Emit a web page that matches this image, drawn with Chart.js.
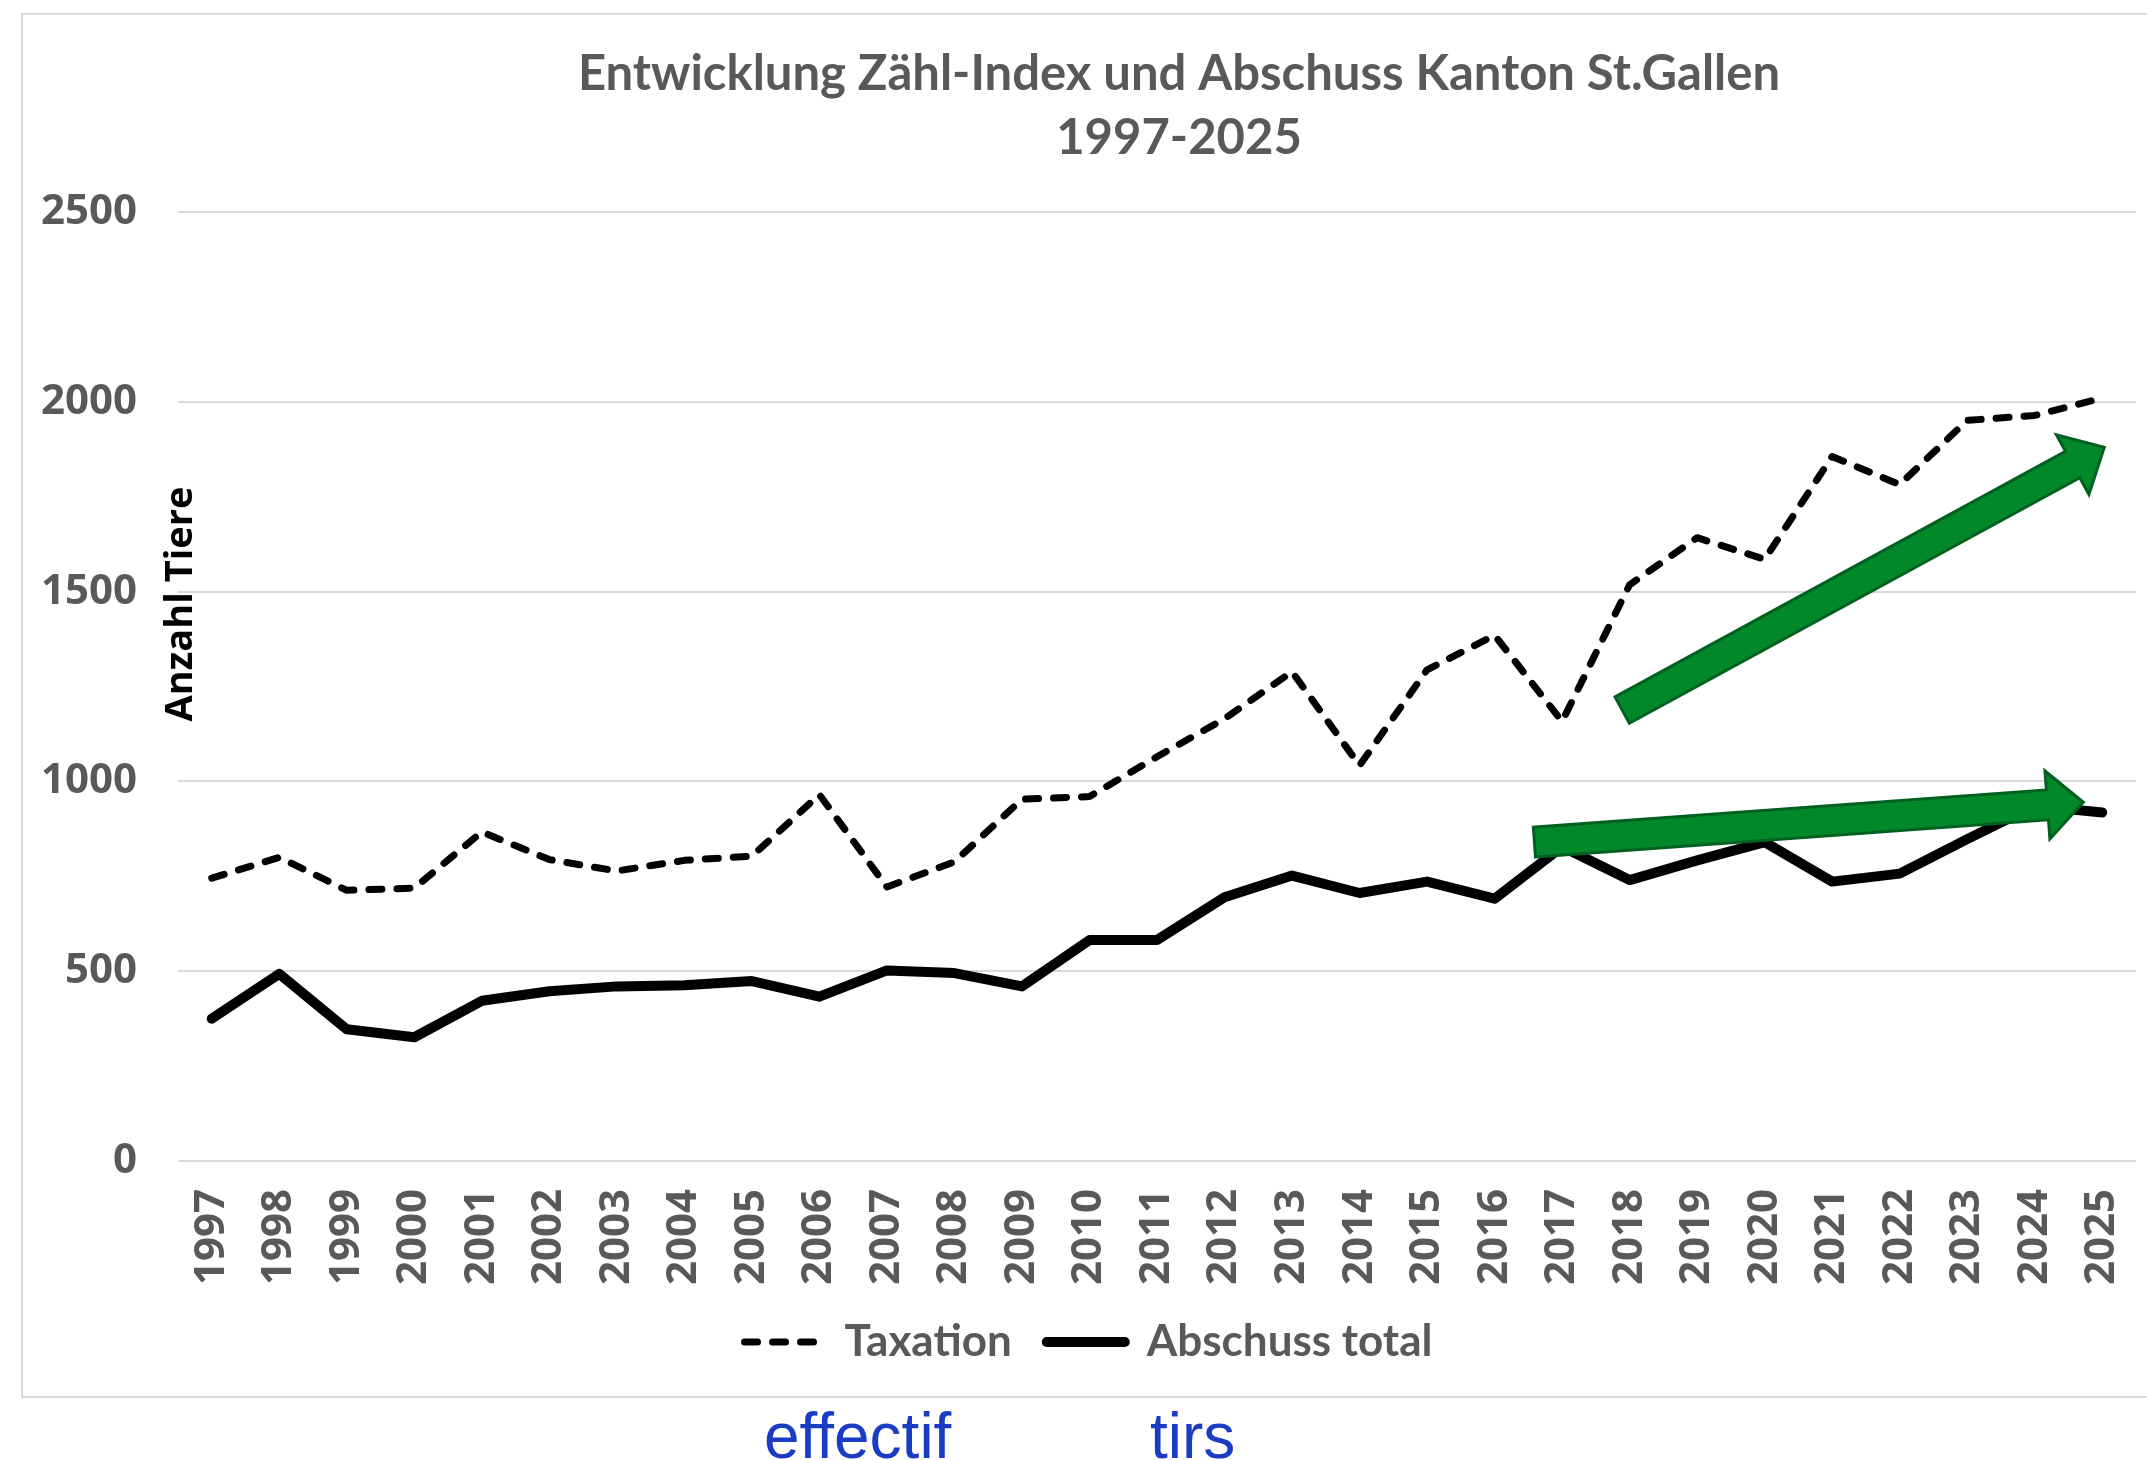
<!DOCTYPE html>
<html>
<head>
<meta charset="utf-8">
<script src="https://cdn.jsdelivr.net/npm/chart.js@4/dist/chart.umd.min.js"></script>
<style>
html,body{margin:0;padding:0;background:#fff;overflow:hidden;}
#wrap{position:relative;width:2147px;height:1460px;}
#frame{position:absolute;left:21px;top:13px;width:2160px;height:1385px;border:2px solid #d9d9d9;box-sizing:border-box;}
#c{position:absolute;left:0;top:0;}
.note{position:absolute;top:1404px;font-family:"Liberation Sans",Arial,sans-serif;font-size:64px;line-height:64px;color:#1a3bc4;white-space:nowrap;}
</style>
</head>
<body>
<div id="wrap">
  <div id="frame"></div>
  <canvas id="c" width="2147" height="1460"></canvas>
  <div class="note" style="left:764px">effectif</div>
  <div class="note" style="left:1150px">tirs</div>
</div>
<script>
// ---- data ----
const years = ['1997','1998','1999','2000','2001','2002','2003','2004','2005','2006','2007','2008','2009','2010','2011','2012','2013','2014','2015','2016','2017','2018','2019','2020','2021','2022','2023','2024','2025'];
const taxation = [745, 800, 713, 719, 867, 794, 764, 792, 803, 965, 722, 788, 953, 960, 1065, 1165, 1289, 1042, 1294, 1385, 1158, 1518, 1642, 1585, 1856, 1782, 1951, 1964, 2010];
const abschuss = [375, 493, 347, 326, 422, 447, 460, 463, 474, 433, 502, 495, 460, 582, 582, 695, 752, 706, 736, 691, 828, 740, 792, 840, 736, 757, 848, 936, 918];
const seriesNames = ['Taxation', 'Abschuss total'];
const yMin = 0, yMax = 2500, yStep = 500;
const titleLines = ['Entwicklung Zähl-Index und Abschuss Kanton St.Gallen', '1997-2025'];
const yAxisTitle = 'Anzahl Tiere';
// trend arrows (fractional year, value)
const arrowFrom = [[2017.89, 1188], [2016.59, 840]];
const arrowTo   = [[2025.03, 1880], [2024.72, 945]];

const GRAY = '#595959';

function drawArrow(ctx, x1, y1, x2, y2, shaftW, headW, headL) {
  const dx = x2 - x1, dy = y2 - y1, len = Math.hypot(dx, dy);
  const ux = dx / len, uy = dy / len, nx = -uy, ny = ux;
  const bx = x2 - ux * headL, by = y2 - uy * headL;
  const p = [
    [x1 + nx * shaftW / 2, y1 + ny * shaftW / 2],
    [bx + nx * shaftW / 2, by + ny * shaftW / 2],
    [bx + nx * headW / 2, by + ny * headW / 2],
    [x2, y2],
    [bx - nx * headW / 2, by - ny * headW / 2],
    [bx - nx * shaftW / 2, by - ny * shaftW / 2],
    [x1 - nx * shaftW / 2, y1 - ny * shaftW / 2]
  ];
  ctx.beginPath();
  ctx.moveTo(p[0][0], p[0][1]);
  for (let i = 1; i < p.length; i++) ctx.lineTo(p[i][0], p[i][1]);
  ctx.closePath();
  ctx.fillStyle = '#00882b';
  ctx.fill();
  ctx.lineWidth = 3;
  ctx.lineJoin = 'miter';
  ctx.strokeStyle = '#006020';
  ctx.stroke();
}

const arrowPlugin = {
  id: 'trendArrows',
  afterDatasetsDraw(chart) {
    const {ctx, scales: {x, y}} = chart;
    ctx.save();
    for (let i = 0; i < arrowFrom.length; i++) {
      const x1 = x.getPixelForValue(arrowFrom[i][0] - 1997), y1 = y.getPixelForValue(arrowFrom[i][1]);
      const x2 = x.getPixelForValue(arrowTo[i][0] - 1997), y2 = y.getPixelForValue(arrowTo[i][1]);
      drawArrow(ctx, x1, y1, x2, y2, 30, 68, 36);
    }
    ctx.restore();
  }
};

const textPlugin = {
  id: 'texts',
  afterDraw(chart) {
    const ctx = chart.ctx;
    ctx.save();
    ctx.fillStyle = GRAY;
    ctx.font = 'bold 49px Lato';
    ctx.textAlign = 'center';
    ctx.textBaseline = 'alphabetic';
    ctx.fillText(titleLines[0], 1179, 90);
    ctx.fillText(titleLines[1], 1179, 154);
    ctx.translate(192, 604);
    ctx.rotate(-Math.PI / 2);
    ctx.fillStyle = '#000';
    ctx.font = 'bold 38px "Open Sans"';
    ctx.fillText(yAxisTitle, 0, 0);
    ctx.restore();
  }
};

function build() {
  new Chart(document.getElementById('c'), {
    type: 'line',
    data: {
      labels: years,
      datasets: [
        {label: seriesNames[0], data: taxation, borderColor: '#000', backgroundColor: '#000', borderWidth: 7,
         borderDash: [13, 15], borderCapStyle: 'round', borderJoinStyle: 'round', pointRadius: 0, tension: 0, fill: false},
        {label: seriesNames[1], data: abschuss, borderColor: '#000', backgroundColor: '#000', borderWidth: 10,
         borderCapStyle: 'round', borderJoinStyle: 'round', pointRadius: 0, tension: 0, fill: false}
      ]
    },
    options: {
      responsive: false,
      devicePixelRatio: 1,
      animation: false,
      layout: {padding: {left: 41, right: 11, top: 212, bottom: 86}},
      plugins: {
        title: {display: false},
        tooltip: {enabled: false},
        legend: {
          position: 'bottom',
          labels: {
            usePointStyle: true,
            pointStyle: 'line',
            pointStyleWidth: 78,
            padding: 35,
            color: GRAY,
            font: {family: 'Lato', weight: 'bold', size: 44},
            generateLabels(chart) {
              return chart.data.datasets.map((ds, i) => ({
                text: ds.label, fillStyle: ds.borderColor, strokeStyle: ds.borderColor,
                lineWidth: ds.borderWidth, lineDash: ds.borderDash || [], lineCap: 'round', lineJoin: 'round',
                pointStyle: 'line', fontColor: GRAY, hidden: false, datasetIndex: i
              }));
            }
          }
        }
      },
      scales: {
        x: {
          offset: true,
          grid: {display: false, drawTicks: false},
          border: {display: false},
          ticks: {autoSkip: false, minRotation: 90, maxRotation: 90, padding: 28, color: GRAY,
                  font: {family: 'Open Sans', weight: 'bold', size: 42}},
          afterFit(s) { s.height = 124; s.paddingLeft = 0; s.paddingRight = 0; }
        },
        y: {
          min: yMin, max: yMax,
          grid: {color: '#d9d9d9', lineWidth: 2, drawTicks: false},
          border: {display: false},
          ticks: {stepSize: yStep, padding: 41, color: GRAY,
                  font: {family: 'Open Sans', weight: 'bold', size: 42},
                  callback: (v) => String(v)},
          afterFit(s) { s.width = 137; }
        }
      }
    },
    plugins: [arrowPlugin, textPlugin]
  });
}

Promise.all([
  document.fonts.load('bold 42px "Open Sans"'),
  document.fonts.load('bold 49px Lato'),
  document.fonts.load('64px "Liberation Sans"')
]).catch(() => {}).then(build);
</script>
</body>
</html>
